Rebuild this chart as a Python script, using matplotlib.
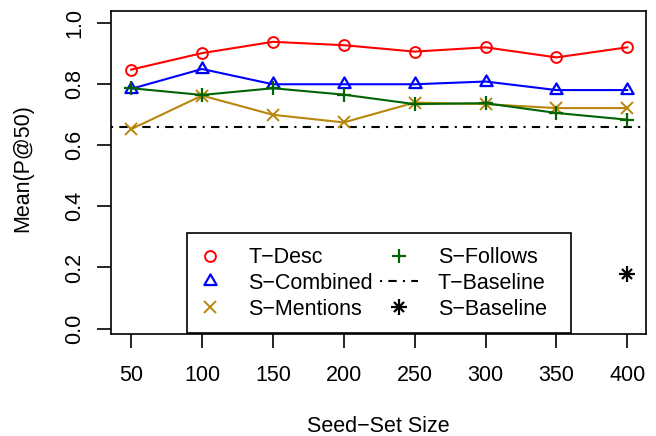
import matplotlib
matplotlib.use("Agg")
import matplotlib.pyplot as plt
from matplotlib.path import Path
from matplotlib.lines import Line2D
from matplotlib.patches import Rectangle
from matplotlib.legend_handler import HandlerTuple

# ---- data ----
seed_sizes = [50, 100, 150, 200, 250, 300, 350, 400]
t_desc = [0.848, 0.902, 0.939, 0.928, 0.907, 0.921, 0.888, 0.921]
s_combined = [0.785, 0.850, 0.800, 0.800, 0.800, 0.809, 0.781, 0.781]
s_mentions = [0.653, 0.763, 0.700, 0.675, 0.740, 0.735, 0.722, 0.722]
s_follows = [0.787, 0.765, 0.787, 0.766, 0.735, 0.738, 0.706, 0.684]
t_baseline = 0.66
s_baseline_x = [400]
s_baseline = [0.18]
x_ticks = [50, 100, 150, 200, 250, 300, 350, 400]
y_ticks = [0.0, 0.2, 0.4, 0.6, 0.8, 1.0]
legend_labels = ["T\u2212Desc", "S\u2212Combined", "S\u2212Mentions",
                 "S\u2212Follows", "T\u2212Baseline", "S\u2212Baseline"]

plt.rcParams['font.family'] = ['Liberation Sans', 'DejaVu Sans']
FS = 15.5
W, H = 656, 436

fig = plt.figure(figsize=(W / 100, H / 100), dpi=100)
L, R, T, B = 111.3, 645.7, 11.3, 334.0
ax = fig.add_axes([L / W, 1 - B / H, (R - L) / W, (B - T) / H])

tri = Path([(0, 1), (-0.866, -0.5), (0.866, -0.5), (0, 1)],
           [Path.MOVETO, Path.LINETO, Path.LINETO, Path.CLOSEPOLY])

red, blue, gold, green = '#FF0000', '#0000FF', '#B8860B', '#006400'
lw = 1.5
st = {
    'desc': dict(marker='o', ms=7.8, mfc='none', mew=1.4),
    'comb': dict(marker=tri, ms=10.2, mfc='none', mew=1.6),
    'ment': dict(marker='x', ms=8.0, mew=1.4),
    'foll': dict(marker='+', ms=10.0, mew=1.6),
    'plus': dict(marker='+', ms=11.0, mew=1.6),
    'cross': dict(marker='x', ms=7.8, mew=1.6),
}

ax.plot(seed_sizes, t_desc, color=red, lw=lw, zorder=3, **st['desc'])
ax.plot(seed_sizes, s_combined, color=blue, lw=lw, zorder=3, **st['comb'])
ax.plot(seed_sizes, s_mentions, color=gold, lw=lw, zorder=3, **st['ment'])
ax.plot(seed_sizes, s_follows, color=green, lw=lw, zorder=4, **st['foll'])
ax.axhline(t_baseline, color='black', lw=lw, dashes=(1, 3, 4, 3), zorder=2)
ax.plot(s_baseline_x, s_baseline, ls='none', color='black', zorder=4, **st['plus'])
ax.plot(s_baseline_x, s_baseline, ls='none', color='black', zorder=4, **st['cross'])

ax.set_xlim(36, 413)
ax.set_ylim(-0.018, 1.039)
ax.set_xticks(x_ticks)
ax.set_xticklabels([str(v) for v in x_ticks])
ax.set_yticks(y_ticks)
ax.set_yticklabels([f"{v:.1f}" for v in y_ticks], rotation=90, va='center')

for s in ax.spines.values():
    s.set_linewidth(1.2)
ax.tick_params(axis='both', length=10, width=1.2, labelsize=FS, color='black')
ax.tick_params(axis='x', pad=12.5)
ax.tick_params(axis='y', pad=8.5)

ax.set_xlabel("Seed\u2212Set Size", fontsize=FS, va='baseline')
ax.xaxis.set_label_coords(0.5, (B - 431.7) / (B - T))
ax.set_ylabel("Mean(P@50)", fontsize=FS, va='baseline')
ax.yaxis.set_label_coords((28.7 - L) / (R - L), (B - 168.3) / (B - T))

# legend
handles = [
    Line2D([], [], ls='none', color=red, **st['desc']),
    Line2D([], [], ls='none', color=blue, **st['comb']),
    Line2D([], [], ls='none', color=gold, **st['ment']),
    Line2D([], [], ls='none', color=green, **st['foll']),
    Line2D([], [], color='black', lw=lw, dashes=(1, 3, 4, 3)),
    (Line2D([], [], ls='none', color='black', **st['plus']),
     Line2D([], [], ls='none', color='black', **st['cross'])),
]
frame = Rectangle((187.3 / W, 1 - 332.7 / H), (570.7 - 187.3) / W,
                  (332.7 - 233.3) / H, transform=fig.transFigure,
                  facecolor='white', edgecolor='black', lw=1.2, zorder=5,
                  clip_on=False)
ax.add_patch(frame)
leg = ax.legend(handles, legend_labels, ncol=2, frameon=False, fontsize=FS,
                handlelength=1.8, handletextpad=0.9, columnspacing=0.3,
                borderpad=0, borderaxespad=0, labelspacing=0.22,
                loc='center', bbox_to_anchor=(368.5 / W, 1 - 283.5 / H),
                bbox_transform=fig.transFigure,
                handler_map={tuple: HandlerTuple(ndivide=1, pad=0)})
leg.set_zorder(6)

fig.savefig("out.png", dpi=100)
